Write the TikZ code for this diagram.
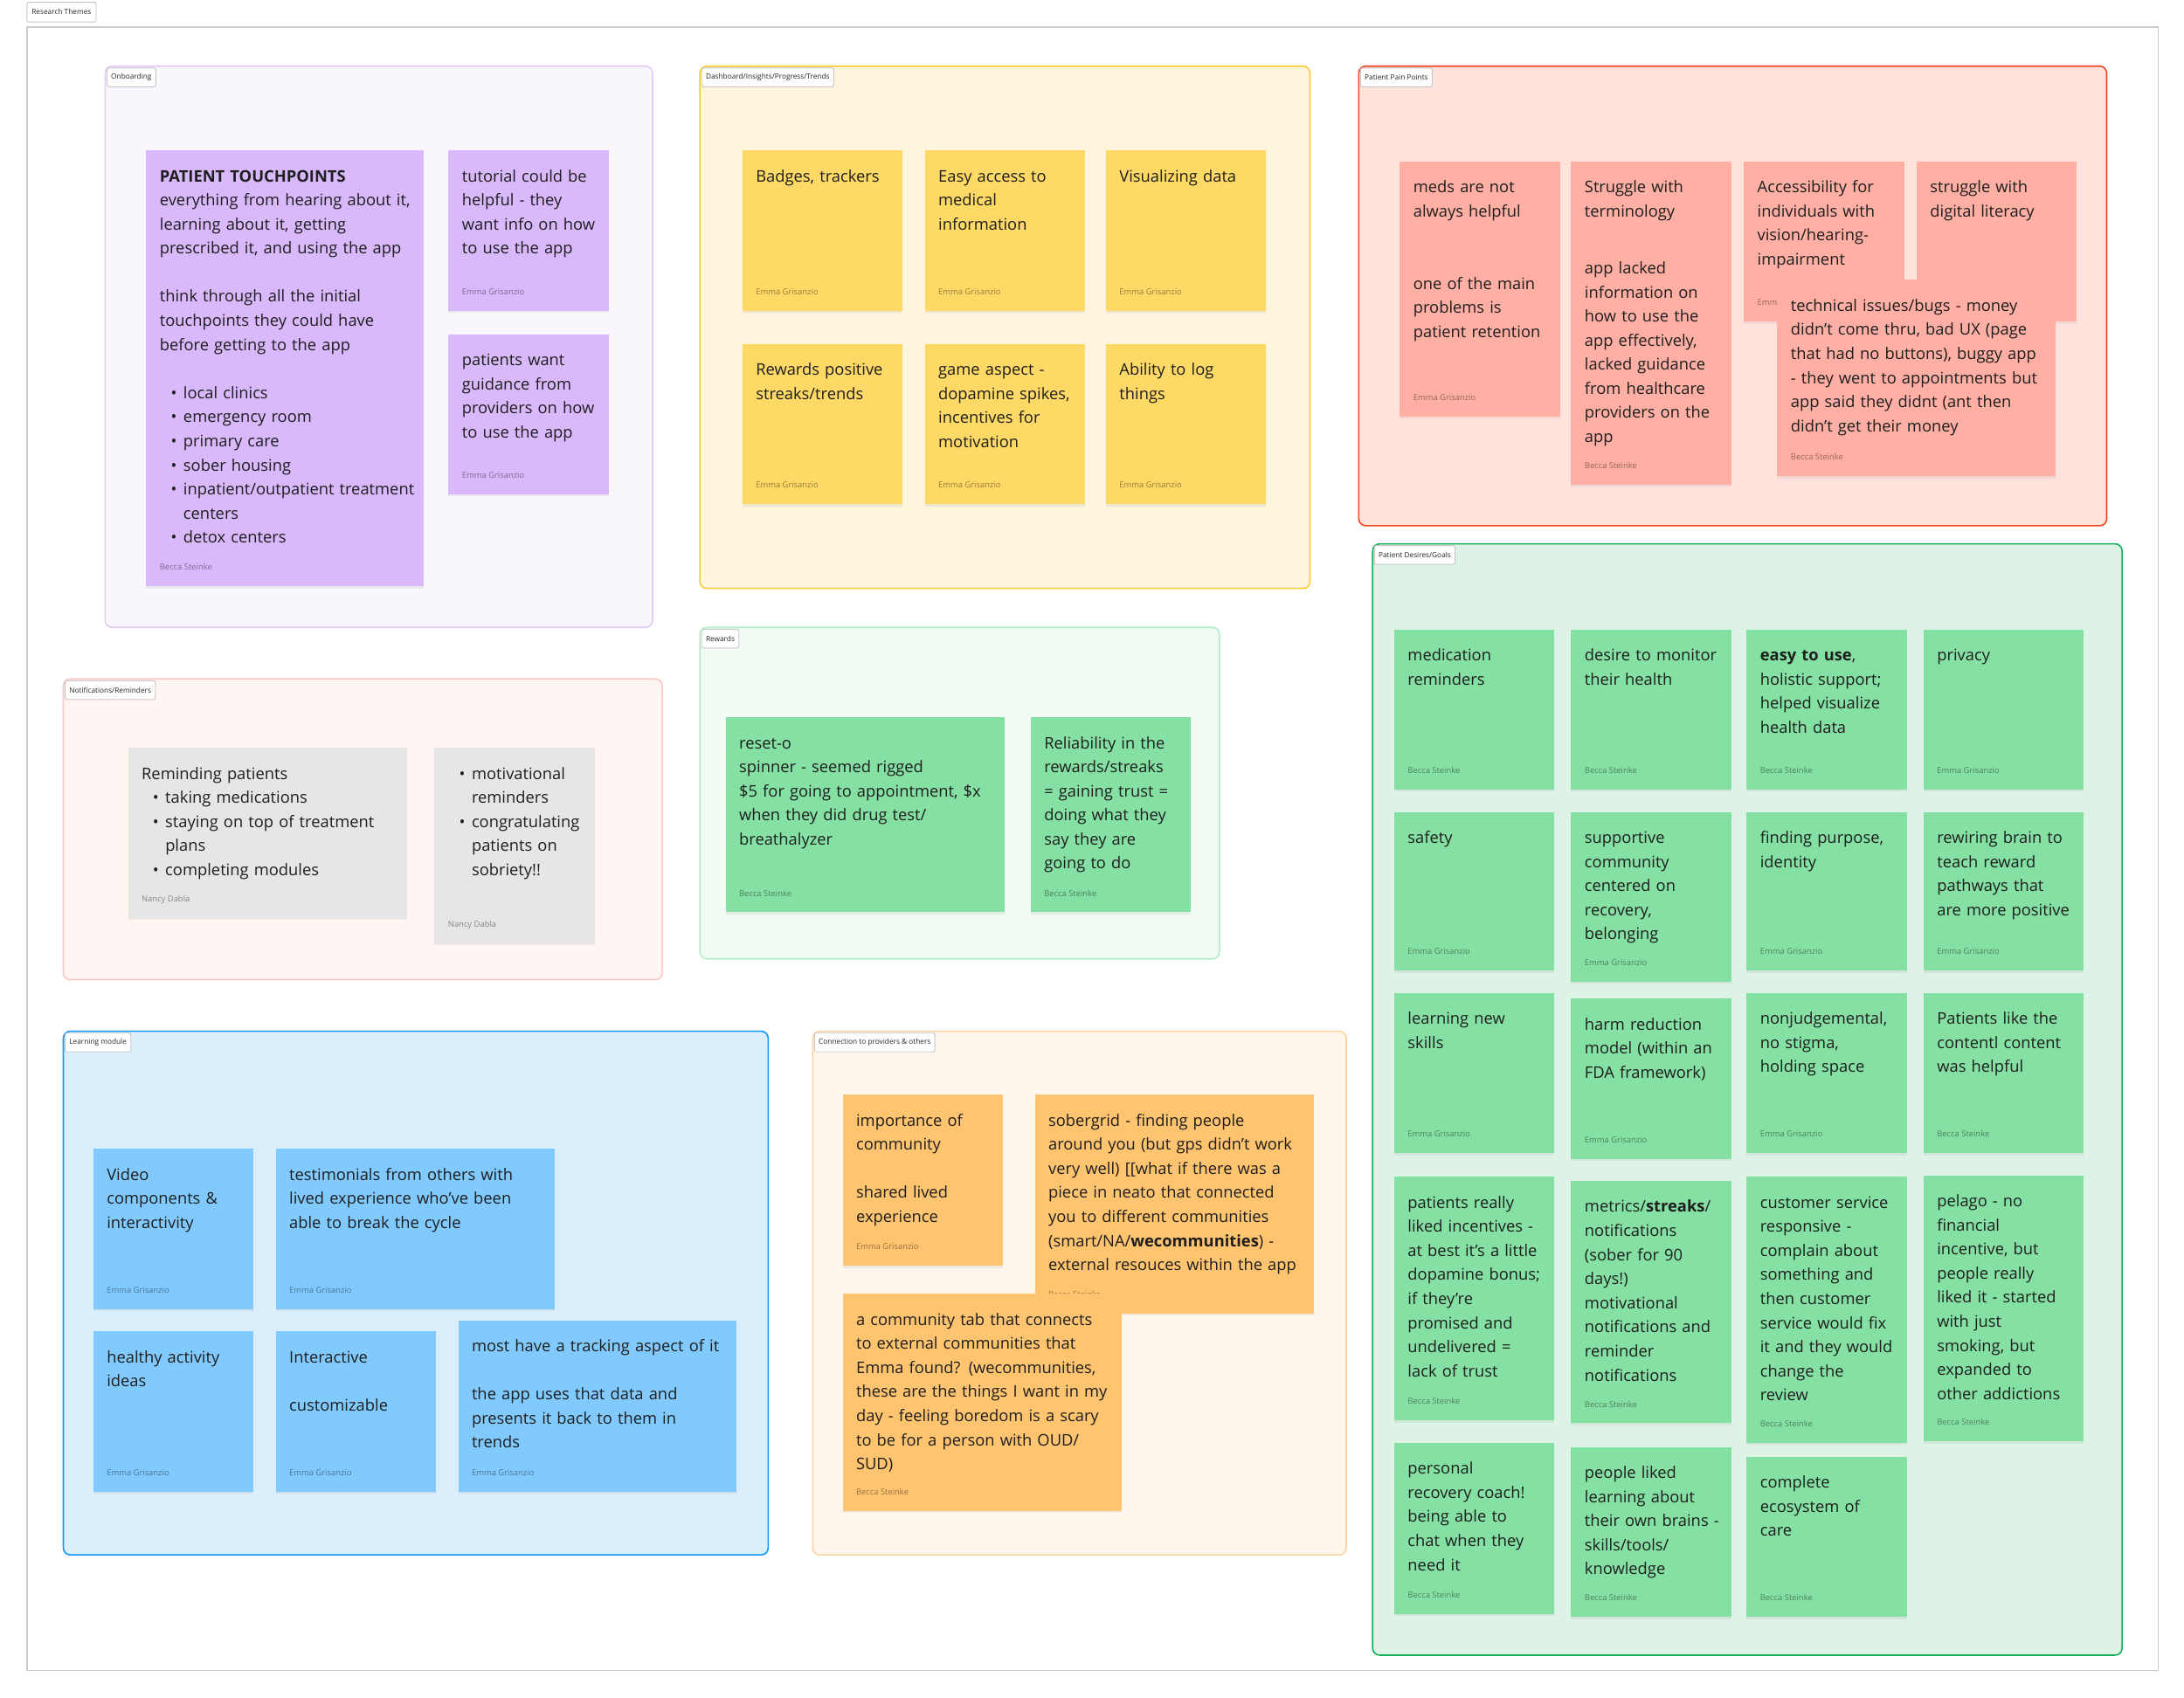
\documentclass[tikz,border=0pt]{standalone}
\usepackage{fontspec}
\setmainfont{Open Sans}
\usetikzlibrary{shadows}
\definecolor{txt}{HTML}{1E1E1E}
\definecolor{purpleNote}{HTML}{D9B8FB}
\definecolor{yellowNote}{HTML}{FFD966}
\definecolor{redNote}{HTML}{FFAFA3}
\definecolor{greenNote}{HTML}{85E0A3}
\definecolor{grayNote}{HTML}{E6E6E6}
\definecolor{blueNote}{HTML}{80CAFF}
\definecolor{orangeNote}{HTML}{FFC470}
\definecolor{onbBorder}{HTML}{E2CCF9}\definecolor{onbFill}{HTML}{F9F6FE}
\definecolor{dashBorder}{HTML}{FFCA33}\definecolor{dashFill}{HTML}{FFF5DD}
\definecolor{painBorder}{HTML}{F24822}\definecolor{painFill}{HTML}{FFE2DC}
\definecolor{rewBorder}{HTML}{AFF0C3}\definecolor{rewFill}{HTML}{F1FBF4}
\definecolor{notBorder}{HTML}{FFC7C2}\definecolor{notFill}{HTML}{FFF5F3}
\definecolor{learnBorder}{HTML}{0D99FF}\definecolor{learnFill}{HTML}{DAEEFC}
\definecolor{connBorder}{HTML}{FFD3A0}\definecolor{connFill}{HTML}{FFF6EE}
\definecolor{desBorder}{HTML}{14AE5C}\definecolor{desFill}{HTML}{DDF3E6}
\tikzset{
  notebox/.style={anchor=north west, inner sep=0pt, outer sep=0pt, draw=none,
    drop shadow={shadow xshift=0pt, shadow yshift=-1.5pt, opacity=0.12}},
  notetext/.style={anchor=base west, inner sep=0pt, align=left, text=txt,
    font=\fontsize{11.5}{17.3}\selectfont},
  authortext/.style={anchor=base west, inner sep=0pt, text=black, text opacity=0.42,
    font=\fontsize{5.9}{6.5}\selectfont},
  framebox/.style 2 args={anchor=north west, inner sep=0pt, draw=#1, fill=#2,
    line width=1pt, rounded corners=5pt},
  framelabel/.style={anchor=north west, inner xsep=3pt, inner ysep=0pt, minimum height=13.5pt,
    draw=black!22, fill=white, rounded corners=1pt, text=black!85, line width=0.6pt,
    font=\fontsize{5.2}{6}\selectfont},
}
\newcommand{\bitem}{\hspace*{8pt}\makebox[9pt][l]{\textbullet}}
\newcommand{\bcont}{\hspace*{17pt}}
\newcommand{\stickynote}[8]{%
  \node[notebox, fill=#6, minimum width=#4pt, minimum height=#5pt] (#1) at (#2,#3) {};
  \node[notetext, text width=#4pt] (#1-text) at ([xshift=9.5pt,yshift=-22.5pt]#1.north west) {#7};
  \node[authortext] (#1-author) at ([xshift=9.5pt,yshift=11.5pt]#1.south west) {#8};
}
\newcommand{\themeframe}[8]{%
  \node[framebox={#6}{#7}, minimum width=#4pt, minimum height=#5pt] (#1) at (#2,#3) {};
  \node[framelabel] (#1-label) at ([xshift=1.5pt,yshift=-1.5pt]#1.north west) {#8};
}
\begin{document}
\begin{tikzpicture}[x=1pt,y=-1pt]
\useasboundingbox (0,0) rectangle (1568,1219);
\fill[white] (0,0) rectangle (1568,1219);
% outer frame
\node[anchor=north west, inner sep=0pt, draw=black!20, fill=white, line width=0.8pt,
  minimum width=1530pt, minimum height=1180pt] (research) at (19,19) {};
\node[framelabel, anchor=south west, inner xsep=3.5pt, minimum height=14pt] (research-label)
  at ([yshift=3pt]research.north west) {Research Themes};

% ---------------- Onboarding
\themeframe{onboarding}{75}{47}{393}{403}{onbBorder}{onbFill}{Onboarding}
\stickynote{pt}{105}{108}{199}{313}{purpleNote}{\textbf{PATIENT TOUCHPOINTS}\\everything from hearing about it,\\learning about it, getting\\prescribed it, and using the app\\[17.3pt]think through all the initial\\touchpoints they could have\\before getting to the app\\[17.3pt]\bitem local clinics\\\bitem emergency room\\\bitem primary care\\\bitem sober housing\\\bitem inpatient/outpatient treatment\\\bcont centers\\\bitem detox centers}{Becca Steinke}
\stickynote{tutorial}{322}{108}{115}{115}{purpleNote}{tutorial could be\\helpful - they\\want info on how\\to use the app}{Emma Grisanzio}
\stickynote{guidance}{322}{240}{115}{115}{purpleNote}{patients want\\guidance from\\providers on how\\to use the app}{Emma Grisanzio}

% ---------------- Dashboard
\themeframe{dashboard}{502}{47}{438}{375}{dashBorder}{dashFill}{Dashboard/Insights/Progress/Trends}
\stickynote{badges}{533}{108}{115}{115}{yellowNote}{Badges, trackers}{Emma Grisanzio}
\stickynote{access}{664}{108}{115}{115}{yellowNote}{Easy access to\\medical\\information}{Emma Grisanzio}
\stickynote{visual}{794}{108}{115}{115}{yellowNote}{Visualizing data}{Emma Grisanzio}
\stickynote{rewpos}{533}{247}{115}{115}{yellowNote}{Rewards positive\\streaks/trends}{Emma Grisanzio}
\stickynote{game}{664}{247}{115}{115}{yellowNote}{game aspect -\\dopamine spikes,\\incentives for\\motivation}{Emma Grisanzio}
\stickynote{logthings}{794}{247}{115}{115}{yellowNote}{Ability to log\\things}{Emma Grisanzio}

% ---------------- Patient Pain Points
\themeframe{pain}{975}{47}{537}{330}{painBorder}{painFill}{Patient Pain Points}
\stickynote{meds}{1005}{116}{115}{183}{redNote}{meds are not\\always helpful\\[34.6pt]one of the main\\problems is\\patient retention}{Emma Grisanzio}
\stickynote{terminology}{1128}{116}{115}{232}{redNote}{Struggle with\\terminology\\[23.5pt]app lacked\\information on\\how to use the\\app effectively,\\lacked guidance\\from healthcare\\providers on the\\app}{Becca Steinke}
\stickynote{accessibility}{1252}{116}{115}{115}{redNote}{Accessibility for\\individuals with\\vision/hearing-\\impairment}{Emma Grisanzio}
\stickynote{literacy}{1376}{116}{115}{115}{redNote}{struggle with\\digital literacy}{}
\stickynote{technical}{1276}{201}{200}{141}{redNote}{technical issues/bugs - money\\didn't come thru, bad UX (page\\that had no buttons), buggy app\\- they went to appointments but\\app said they didnt (ant then\\didn't get their money}{Becca Steinke}

% ---------------- Rewards
\themeframe{rewards}{502}{450}{373}{238}{rewBorder}{rewFill}{Rewards}
\stickynote{reseto}{521}{515}{200}{140}{greenNote}{reset-o\\spinner - seemed rigged\\\$5 for going to appointment, \$x\\when they did drug test/\\breathalyzer}{Becca Steinke}
\stickynote{reliability}{740}{515}{115}{140}{greenNote}{Reliability in the\\rewards/streaks\\= gaining trust =\\doing what they\\say they are\\going to do}{Becca Steinke}

% ---------------- Notifications
\themeframe{notif}{45}{487}{430}{216}{notBorder}{notFill}{Notifications/Reminders}
\stickynote{reminding}{92}{537}{200}{122}{grayNote}{Reminding patients\\\bitem taking medications\\\bitem staying on top of treatment\\\bcont plans\\\bitem completing modules}{Nancy Dabla}
\stickynote{motivational}{312}{537}{115}{140}{grayNote}{\bitem motivational\\\bcont reminders\\\bitem congratulating\\\bcont patients on\\\bcont sobriety!!}{Nancy Dabla}

% ---------------- Learning module
\themeframe{learning}{45}{740}{506}{376}{learnBorder}{learnFill}{Learning module}
\stickynote{video}{67}{825}{115}{115}{blueNote}{Video\\components \&\\interactivity}{Emma Grisanzio}
\stickynote{testimonials}{198}{825}{200}{115}{blueNote}{testimonials from others with\\lived experience who've been\\able to break the cycle}{Emma Grisanzio}
\stickynote{healthy}{67}{956}{115}{115}{blueNote}{healthy activity\\ideas}{Emma Grisanzio}
\stickynote{interactive}{198}{956}{115}{115}{blueNote}{Interactive\\[17.3pt]customizable}{Emma Grisanzio}
\stickynote{tracking}{329}{948}{200}{123}{blueNote}{most have a tracking aspect of it\\[17.3pt]the app uses that data and\\presents it back to them in\\trends}{Emma Grisanzio}

% ---------------- Connection
\themeframe{connection}{583}{740}{383}{376}{connBorder}{connFill}{Connection to providers \& others}
\stickynote{community}{605}{786}{115}{123}{orangeNote}{importance of\\community\\[17.3pt]shared lived\\experience}{Emma Grisanzio}
\stickynote{sobergrid}{743}{786}{200}{157}{orangeNote}{sobergrid - finding people\\around you (but gps didn't work\\very well) [[what if there was a\\piece in neato that connected\\you to different communities\\(smart/NA/\textbf{wecommunities}) -\\external resouces within the app}{Becca Steinke}
\stickynote{commtab}{605}{929}{200}{156}{orangeNote}{a community tab that connects\\to external communities that\\Emma found? (wecommunities,\\these are the things I want in my\\day - feeling boredom is a scary\\to be for a person with OUD/\\SUD)}{Becca Steinke}

% ---------------- Patient Desires/Goals
\themeframe{desires}{985}{390}{538}{798}{desBorder}{desFill}{Patient Desires/Goals}
\stickynote{medrem}{1001}{452}{115}{115}{greenNote}{medication\\reminders}{Becca Steinke}
\stickynote{monitor}{1128}{452}{115}{115}{greenNote}{desire to monitor\\their health}{Becca Steinke}
\stickynote{easyuse}{1254}{452}{115}{115}{greenNote}{\textbf{easy to use},\\holistic support;\\helped visualize\\health data}{Becca Steinke}
\stickynote{privacy}{1381}{452}{115}{115}{greenNote}{privacy}{Emma Grisanzio}
\stickynote{safety}{1001}{583}{115}{114}{greenNote}{safety}{Emma Grisanzio}
\stickynote{supportive}{1128}{583}{115}{122}{greenNote}{supportive\\community\\centered on\\recovery,\\belonging}{Emma Grisanzio}
\stickynote{purpose}{1254}{583}{115}{114}{greenNote}{finding purpose,\\identity}{Emma Grisanzio}
\stickynote{rewiring}{1381}{583}{115}{114}{greenNote}{rewiring brain to\\teach reward\\pathways that\\are more positive}{Emma Grisanzio}
\stickynote{skills}{1001}{713}{115}{115}{greenNote}{learning new\\skills}{Emma Grisanzio}
\stickynote{harm}{1128}{717}{115}{115}{greenNote}{harm reduction\\model (within an\\FDA framework)}{Emma Grisanzio}
\stickynote{nonjudge}{1254}{713}{115}{115}{greenNote}{nonjudgemental,\\no stigma,\\holding space}{Emma Grisanzio}
\stickynote{content}{1381}{713}{115}{115}{greenNote}{Patients like the\\contentl content\\was helpful}{Becca Steinke}
\stickynote{incentives}{1001}{845}{115}{175}{greenNote}{patients really\\liked incentives -\\at best it's a little\\dopamine bonus;\\if they're\\promised and\\undelivered =\\lack of trust}{Becca Steinke}
\stickynote{metrics}{1128}{848}{115}{174}{greenNote}{metrics/\textbf{streaks}/\\notifications\\(sober for 90\\days!)\\motivational\\notifications and\\reminder\\notifications}{Becca Steinke}
\stickynote{service}{1254}{845}{115}{191}{greenNote}{customer service\\responsive -\\complain about\\something and\\then customer\\service would fix\\it and they would\\change the\\review}{Becca Steinke}
\stickynote{pelago}{1381}{844}{115}{191}{greenNote}{pelago - no\\financial\\incentive, but\\people really\\liked it - started\\with just\\smoking, but\\expanded to\\other addictions}{Becca Steinke}
\stickynote{coach}{1001}{1036}{115}{123}{greenNote}{personal\\recovery coach!\\being able to\\chat when they\\need it}{Becca Steinke}
\stickynote{brains}{1128}{1039}{115}{122}{greenNote}{people liked\\learning about\\their own brains -\\skills/tools/\\knowledge}{Becca Steinke}
\stickynote{ecosystem}{1254}{1046}{115}{115}{greenNote}{complete\\ecosystem of\\care}{Becca Steinke}
\end{tikzpicture}
\end{document}
